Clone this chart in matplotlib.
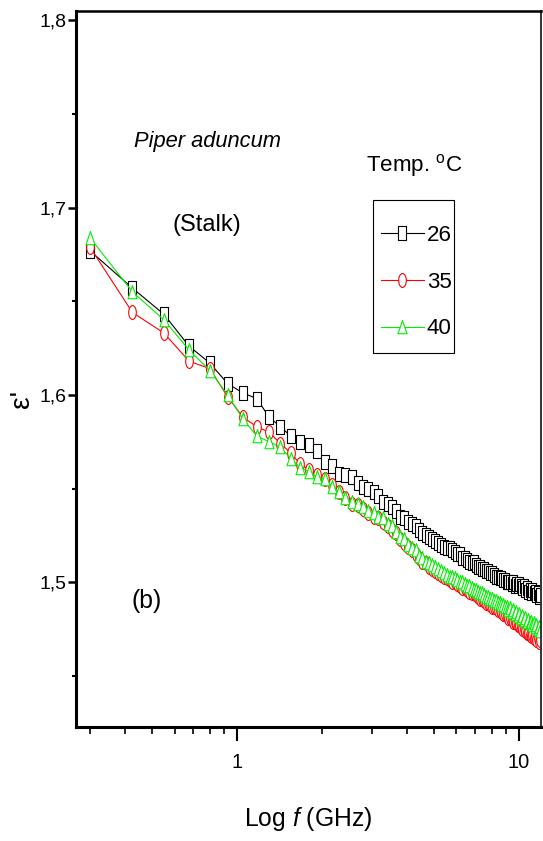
import matplotlib
matplotlib.use("Agg")
import matplotlib.pyplot as plt
from matplotlib import font_manager
from matplotlib.path import Path
from matplotlib.patches import Rectangle
from matplotlib.transforms import Affine2D
from matplotlib.ticker import FixedLocator, NullFormatter

# frequency sweep (GHz)
freq_ghz = [
    0.300, 0.425, 0.550, 0.675, 0.800, 0.925, 1.050, 1.175, 1.300, 1.425,
    1.550, 1.675, 1.800, 1.925, 2.050, 2.175, 2.300, 2.425, 2.550, 2.675,
    2.800, 2.925, 3.050, 3.175, 3.300, 3.425, 3.550, 3.675, 3.800, 3.925,
    4.050, 4.175, 4.300, 4.425, 4.550, 4.675, 4.800, 4.925, 5.050, 5.175,
    5.300, 5.425, 5.550, 5.675, 5.800, 5.925, 6.050, 6.175, 6.300, 6.425,
    6.550, 6.675, 6.800, 6.925, 7.050, 7.175, 7.300, 7.425, 7.550, 7.675,
    7.800, 7.925, 8.050, 8.175, 8.300, 8.425, 8.550, 8.675, 8.800, 8.925,
    9.050, 9.175, 9.300, 9.425, 9.550, 9.675, 9.800, 9.925, 10.050, 10.175,
    10.300, 10.425, 10.550, 10.675, 10.800, 10.925, 11.050, 11.175, 11.300, 11.425,
    11.550, 11.675, 11.800, 11.925,
]

eps_26 = [
    1.677, 1.657, 1.643, 1.626, 1.617, 1.606, 1.601, 1.598, 1.588, 1.583,
    1.578, 1.575, 1.573, 1.570, 1.564, 1.562, 1.558, 1.557, 1.556, 1.553,
    1.551, 1.550, 1.548, 1.546, 1.543, 1.542, 1.540, 1.538, 1.535, 1.534,
    1.532, 1.531, 1.530, 1.528, 1.526, 1.525, 1.524, 1.523, 1.522, 1.521,
    1.520, 1.519, 1.518, 1.518, 1.517, 1.516, 1.515, 1.515, 1.513, 1.513,
    1.512, 1.511, 1.510, 1.511, 1.509, 1.508, 1.508, 1.507, 1.507, 1.506,
    1.506, 1.505, 1.505, 1.504, 1.503, 1.503, 1.502, 1.502, 1.501, 1.501,
    1.500, 1.500, 1.500, 1.499, 1.500, 1.498, 1.499, 1.498, 1.499, 1.498,
    1.497, 1.498, 1.496, 1.497, 1.495, 1.496, 1.494, 1.496, 1.494, 1.495,
    1.493, 1.494, 1.492, 1.493,
]

eps_35 = [
    1.679, 1.644, 1.633, 1.618, 1.614, 1.599, 1.588, 1.583, 1.580, 1.574,
    1.569, 1.563, 1.560, 1.557, 1.555, 1.552, 1.548, 1.545, 1.542, 1.541,
    1.539, 1.537, 1.535, 1.534, 1.532, 1.530, 1.528, 1.526, 1.523, 1.521,
    1.519, 1.517, 1.515, 1.513, 1.511, 1.510, 1.508, 1.507, 1.506, 1.505,
    1.504, 1.503, 1.502, 1.501, 1.500, 1.500, 1.499, 1.498, 1.497, 1.497,
    1.496, 1.495, 1.494, 1.494, 1.493, 1.492, 1.491, 1.491, 1.490, 1.489,
    1.489, 1.488, 1.487, 1.487, 1.486, 1.485, 1.485, 1.484, 1.483, 1.483,
    1.482, 1.481, 1.481, 1.480, 1.479, 1.479, 1.478, 1.477, 1.477, 1.476,
    1.475, 1.475, 1.474, 1.473, 1.473, 1.472, 1.471, 1.472, 1.470, 1.471,
    1.469, 1.470, 1.468, 1.469,
]

eps_40 = [
    1.684, 1.655, 1.640, 1.624, 1.613, 1.600, 1.587, 1.578, 1.575, 1.572,
    1.566, 1.561, 1.559, 1.556, 1.555, 1.551, 1.548, 1.545, 1.543, 1.542,
    1.540, 1.538, 1.537, 1.535, 1.534, 1.531, 1.530, 1.527, 1.524, 1.523,
    1.520, 1.518, 1.517, 1.514, 1.513, 1.511, 1.510, 1.509, 1.508, 1.507,
    1.506, 1.505, 1.504, 1.503, 1.503, 1.502, 1.501, 1.500, 1.500, 1.499,
    1.498, 1.498, 1.497, 1.496, 1.496, 1.495, 1.494, 1.494, 1.493, 1.492,
    1.492, 1.491, 1.491, 1.490, 1.490, 1.489, 1.489, 1.488, 1.488, 1.487,
    1.487, 1.485, 1.486, 1.484, 1.485, 1.483, 1.484, 1.482, 1.483, 1.481,
    1.482, 1.480, 1.481, 1.479, 1.480, 1.478, 1.479, 1.477, 1.478, 1.476,
    1.477, 1.475, 1.476, 1.474,
]

temp_labels = ["26", "35", "40"]
y_ticks = [1.5, 1.6, 1.7, 1.8]
y_tick_labels = ["1,5", "1,6", "1,7", "1,8"]

# narrow font if it is there, the original lettering is very condensed
names = {f.name for f in font_manager.fontManager.ttflist}
if "Liberation Sans Narrow" in names:
    FAMILY, K = "Liberation Sans Narrow", 1.0
else:
    FAMILY, K = "Liberation Sans", 0.85

plt.rcParams["font.family"] = [FAMILY, "DejaVu Sans"]
plt.rcParams["mathtext.fontset"] = "custom"
plt.rcParams["mathtext.rm"] = FAMILY
plt.rcParams["mathtext.it"] = FAMILY + ":italic"

# tall, thin markers like the squeezed original
MOVE, LINE, CLOSE = Path.MOVETO, Path.LINETO, Path.CLOSEPOLY
square = Path([(-0.57, -1), (0.57, -1), (0.57, 1), (-0.57, 1), (-0.57, -1)],
              [MOVE, LINE, LINE, LINE, CLOSE])
oval = Affine2D().scale(0.55, 1.0).transform_path(Path.unit_circle())
triangle = Path([(0, 1), (-0.65, -0.9), (0.65, -0.9), (0, 1)],
                [MOVE, LINE, LINE, CLOSE])

fig = plt.figure(figsize=(5.43, 8.41), dpi=100)
ax = fig.add_axes([0.140, 0.1356, 0.856, 0.851])

series = [
    (eps_26, "black", square),
    (eps_35, "#ff0000", oval),
    (eps_40, "#00ee00", triangle),
]
for (vals, color, marker), lab in zip(series, temp_labels):
    ax.plot(freq_ghz, vals, color=color, lw=0.8, marker=marker, ms=10,
            mfc="white", mec=color, mew=0.8, label=lab)

ax.set_xscale("log")
ax.set_xlim(0.268, 11.97)
ax.set_ylim(1.4227, 1.8048)

ax.xaxis.set_major_locator(FixedLocator([1, 10]))
ax.set_xticklabels(["1", "10"])
ax.xaxis.set_minor_locator(FixedLocator([0.3, 0.4, 0.5, 0.6, 0.7, 0.8, 0.9,
                                         2, 3, 4, 5, 6, 7, 8, 9]))
ax.xaxis.set_minor_formatter(NullFormatter())
ax.set_yticks(y_ticks)
ax.set_yticklabels(y_tick_labels)
ax.yaxis.set_minor_locator(FixedLocator([1.45, 1.55, 1.65, 1.75]))

ax.tick_params(axis="x", which="major", direction="out", length=10, width=1.5,
               pad=9, labelsize=17 * K)
ax.tick_params(axis="x", which="minor", direction="out", length=5, width=1.2)
ax.tick_params(axis="y", which="major", direction="out", length=6, width=1.8,
               pad=1, labelsize=16.5 * K)
ax.tick_params(axis="y", which="minor", direction="out", length=3, width=1.5)

for side, lw in [("left", 2.2), ("bottom", 2.2), ("top", 1.8), ("right", 1.4)]:
    ax.spines[side].set_linewidth(lw)
ax.spines["right"].set_color("#333333")

ax.set_xlabel("Log $f$ (GHz)", fontsize=21 * K)
ax.xaxis.label.set_va("center")
ax.xaxis.set_label_coords(0.50, -0.128)
ax.set_ylabel("ε'", fontsize=24 * K)
ax.yaxis.label.set_va("center")
ax.yaxis.set_label_coords(-0.116, 0.458)

ax.text(0.282, 0.818, "Piper aduncum", style="italic", fontsize=18.5 * K,
        ha="center", va="center", transform=ax.transAxes)
ax.text(0.282, 0.701, "(Stalk)", fontsize=20 * K,
        ha="center", va="center", transform=ax.transAxes)
ax.text(0.151, 0.176, "(b)", fontsize=21 * K,
        ha="center", va="center", transform=ax.transAxes)
ax.text(0.727, 0.785, "Temp. $^{\\mathrm{o}}$C", fontsize=19 * K,
        ha="center", va="center", transform=ax.transAxes)

# legend entries without their own frame; the box is drawn separately
leg = ax.legend(loc="center left", bbox_to_anchor=(0.656, 0.6215), borderaxespad=0,
                frameon=False, numpoints=1, handlelength=1.9, handletextpad=0.15,
                labelspacing=1.15, borderpad=0, fontsize=19 * K)
ax.add_patch(Rectangle((0.639, 0.522), 0.174, 0.214, transform=ax.transAxes,
                       fill=False, edgecolor="black", lw=0.8, zorder=5))

fig.savefig("out.png", dpi=100)
